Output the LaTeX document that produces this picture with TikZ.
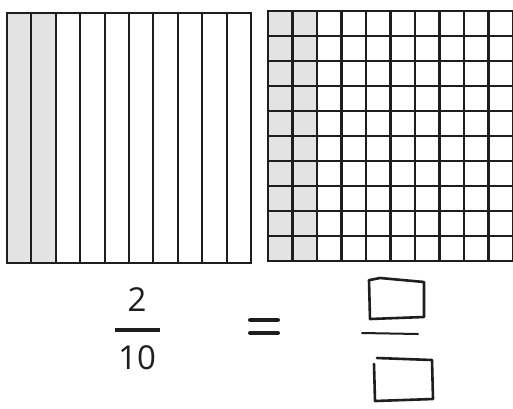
\documentclass[tikz,border=0pt]{standalone}
\usepackage{fontspec}
\setsansfont{Open Sans}
\definecolor{ink}{HTML}{1E1E1E}
\definecolor{tint}{HTML}{E3E3E3}

\begin{document}
\begin{tikzpicture}[x=1pt,y=-1pt,font=\sffamily,text=ink,
  grid/.style={draw=ink,line width=2.1pt},
  digit/.style={font=\sffamily\fontsize{33}{36}\selectfont},
  hand/.style={draw=ink,line width=2.6pt,line join=round,line cap=round}]
  \useasboundingbox[fill=white] (0,0) rectangle (513,408);
  % tenths: ten strips, two shaded
  \begin{scope}[shift={(7,13)}]
    \fill[tint] (0,0) rectangle (48.8,250);
    \foreach \i in {1,...,9}
      \draw[grid] (24.4*\i,0) -- (24.4*\i,250);
    \draw[grid] (0,0) rectangle (244,250);
  \end{scope}
  % hundredths: ten by ten, two columns shaded
  \begin{scope}[shift={(268,11)}]
    \fill[tint] (0,0) rectangle (49,250);
    \foreach \i in {1,...,9}{
      \draw[grid] (24.5*\i,0) -- (24.5*\i,250);
      \draw[grid] (0,25*\i) -- (245,25*\i);
    }
    \draw[grid] (0,0) rectangle (245,250);
  \end{scope}
  % fractions
  \node[digit] (num) at (137,300) {2};
  \draw[hand,line width=3.5pt,line cap=butt] (115,330) coordinate (barL) -- (160,330) coordinate (barR);
  \node[digit] (den) at (137,358) {10};
  \draw[hand,line width=4pt] (250,320) -- (278,320);
  \draw[hand,line width=4pt] (250,333) -- (278,333);
  \draw[hand] (369,280) -- (370,319) -- (424,317) -- (424,282) -- (380,278) -- (370,280);
  \draw[hand,line width=2pt] (362,333) -- (418,334);
  \draw[hand] (374,364) -- (375,401) -- (433,399) -- (432,360) -- (377,358);
\end{tikzpicture}
\end{document}
